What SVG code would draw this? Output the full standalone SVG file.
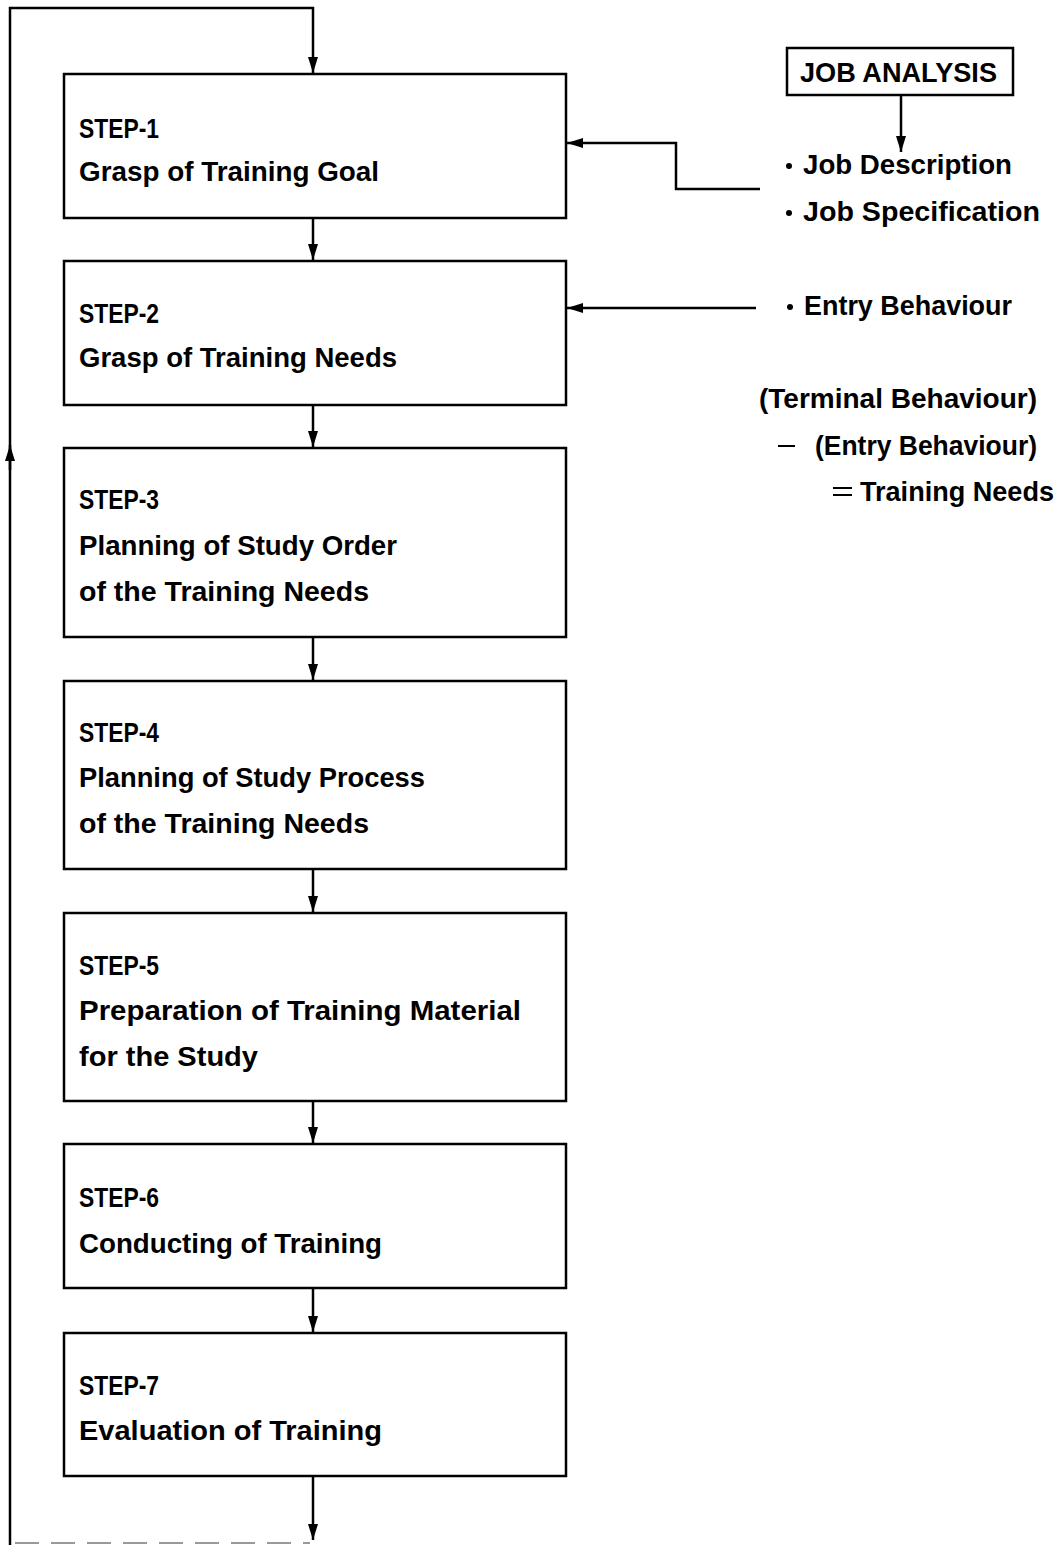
<svg xmlns="http://www.w3.org/2000/svg" width="1060" height="1545" viewBox="0 0 1060 1545">
<style>
.box{fill:#fff;stroke:#000;stroke-width:2.5}
.ln{fill:none;stroke:#000;stroke-width:2.5}
.t{font-family:"Liberation Sans",Arial,sans-serif;font-size:28px;font-weight:bold;fill:#000}
</style>
<defs>
<marker id="ah" viewBox="0 0 16 10" refX="16" refY="5" markerWidth="16" markerHeight="11" markerUnits="userSpaceOnUse" orient="auto">
<path d="M0,0 L16,5 L0,10 Z" fill="#000"/>
</marker>
</defs>
<rect width="1060" height="1545" fill="#fff"/>
<g id="connectors">
<polyline class="ln" points="10,1545 10,8 313,8 313,73" marker-end="url(#ah)"/>
<line class="ln" x1="10" y1="470" x2="10" y2="445" marker-end="url(#ah)"/>
<line class="ln" x1="313" y1="218" x2="313" y2="260" marker-end="url(#ah)"/>
<line class="ln" x1="313" y1="405" x2="313" y2="447" marker-end="url(#ah)"/>
<line class="ln" x1="313" y1="637" x2="313" y2="680" marker-end="url(#ah)"/>
<line class="ln" x1="313" y1="869" x2="313" y2="912" marker-end="url(#ah)"/>
<line class="ln" x1="313" y1="1101" x2="313" y2="1143" marker-end="url(#ah)"/>
<line class="ln" x1="313" y1="1288" x2="313" y2="1332" marker-end="url(#ah)"/>
<line class="ln" x1="313" y1="1476" x2="313" y2="1540" marker-end="url(#ah)"/>
<line x1="15" y1="1543" x2="310" y2="1543" stroke="#999" stroke-width="2" stroke-dasharray="24,12"/>
<line class="ln" x1="901" y1="95" x2="901" y2="152" marker-end="url(#ah)"/>
<polyline class="ln" points="760,189 676,189 676,143 567,143" marker-end="url(#ah)"/>
<line class="ln" x1="756" y1="308" x2="567" y2="308" marker-end="url(#ah)"/>
</g>
<g id="step1">
<rect class="box" x="64" y="74" width="502" height="144"/>
<text class="t" x="79" y="138" textLength="80" lengthAdjust="spacingAndGlyphs">STEP-1</text>
<text class="t" x="79" y="181" textLength="300" lengthAdjust="spacingAndGlyphs">Grasp of Training Goal</text>
</g>
<g id="step2">
<rect class="box" x="64" y="261" width="502" height="144"/>
<text class="t" x="79" y="323" textLength="80" lengthAdjust="spacingAndGlyphs">STEP-2</text>
<text class="t" x="79" y="367" textLength="318" lengthAdjust="spacingAndGlyphs">Grasp of Training Needs</text>
</g>
<g id="step3">
<rect class="box" x="64" y="448" width="502" height="189"/>
<text class="t" x="79" y="509" textLength="80" lengthAdjust="spacingAndGlyphs">STEP-3</text>
<text class="t" x="79" y="555" textLength="318" lengthAdjust="spacingAndGlyphs">Planning of Study Order</text>
<text class="t" x="79" y="601" textLength="290" lengthAdjust="spacingAndGlyphs">of the Training Needs</text>
</g>
<g id="step4">
<rect class="box" x="64" y="681" width="502" height="188"/>
<text class="t" x="79" y="742" textLength="80" lengthAdjust="spacingAndGlyphs">STEP-4</text>
<text class="t" x="79" y="787" textLength="346" lengthAdjust="spacingAndGlyphs">Planning of Study Process</text>
<text class="t" x="79" y="833" textLength="290" lengthAdjust="spacingAndGlyphs">of the Training Needs</text>
</g>
<g id="step5">
<rect class="box" x="64" y="913" width="502" height="188"/>
<text class="t" x="79" y="975" textLength="80" lengthAdjust="spacingAndGlyphs">STEP-5</text>
<text class="t" x="79" y="1020" textLength="442" lengthAdjust="spacingAndGlyphs">Preparation of Training Material</text>
<text class="t" x="79" y="1066" textLength="179" lengthAdjust="spacingAndGlyphs">for the Study</text>
</g>
<g id="step6">
<rect class="box" x="64" y="1144" width="502" height="144"/>
<text class="t" x="79" y="1207" textLength="80" lengthAdjust="spacingAndGlyphs">STEP-6</text>
<text class="t" x="79" y="1253" textLength="303" lengthAdjust="spacingAndGlyphs">Conducting of Training</text>
</g>
<g id="step7">
<rect class="box" x="64" y="1333" width="502" height="143"/>
<text class="t" x="79" y="1395" textLength="80" lengthAdjust="spacingAndGlyphs">STEP-7</text>
<text class="t" x="79" y="1440" textLength="303" lengthAdjust="spacingAndGlyphs">Evaluation of Training</text>
</g>
<g id="job-analysis">
<rect class="box" x="787" y="48" width="226" height="47"/>
<text class="t" x="800" y="82" textLength="197" lengthAdjust="spacingAndGlyphs">JOB ANALYSIS</text>
</g>
<g id="job-items">
<circle cx="789" cy="166" r="3"/>
<text class="t" x="803" y="174" textLength="209" lengthAdjust="spacingAndGlyphs">Job Description</text>
<circle cx="789" cy="213" r="3"/>
<text class="t" x="803" y="221" textLength="237" lengthAdjust="spacingAndGlyphs">Job Specification</text>
</g>
<g id="entry-behaviour">
<circle cx="790" cy="307" r="3"/>
<text class="t" x="804" y="315" textLength="208" lengthAdjust="spacingAndGlyphs">Entry Behaviour</text>
</g>
<g id="formula">
<text class="t" x="759" y="408" textLength="278" lengthAdjust="spacingAndGlyphs">(Terminal Behaviour)</text>
<line x1="778" y1="446" x2="795" y2="446" stroke="#000" stroke-width="2"/>
<text class="t" x="815" y="455" textLength="222" lengthAdjust="spacingAndGlyphs">(Entry Behaviour)</text>
<line x1="833" y1="488" x2="852" y2="488" stroke="#000" stroke-width="2"/>
<line x1="833" y1="495" x2="852" y2="495" stroke="#000" stroke-width="2"/>
<text class="t" x="860" y="501" textLength="194" lengthAdjust="spacingAndGlyphs">Training Needs</text>
</g>
</svg>
